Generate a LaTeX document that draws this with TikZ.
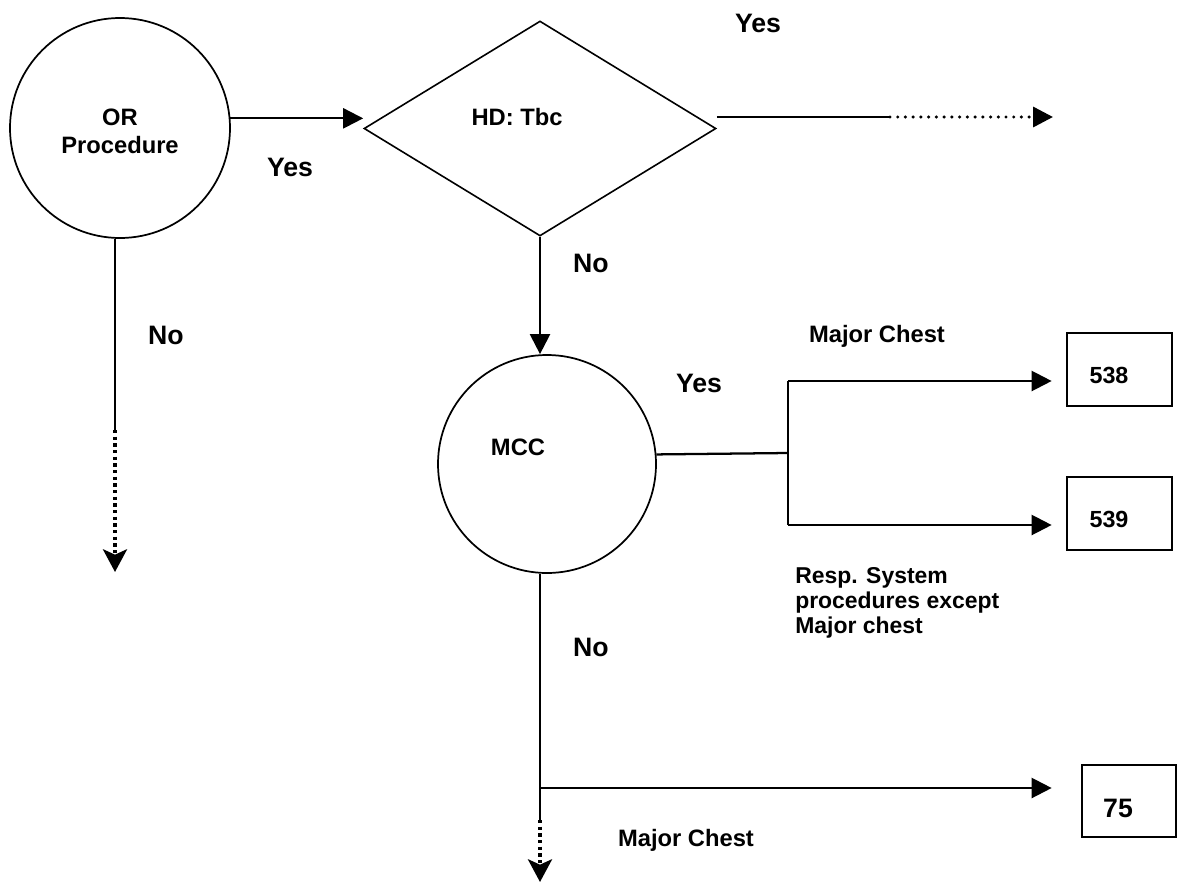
\documentclass[tikz,border=0pt]{standalone}
\usepackage{fontspec}
\setmainfont{Liberation Sans}
\usetikzlibrary{shapes.geometric,arrows.meta}
\begin{document}
\begin{tikzpicture}[x=0.75pt,y=-0.75pt,
  conn/.style={line width=1.7pt},
  arr/.style={conn,-{Triangle[length=15pt,width=15pt]}},
  dotarrH/.style={line width=2.6pt,line cap=round,dash pattern=on 0pt off 5.8pt,-{Triangle[length=15pt,width=15pt]}},
  dotarrV/.style={line width=2.8pt,dash pattern=on 2.6pt off 2.4pt,-{Stealth[length=17pt,width=18pt,inset=4pt]}},
  circ/.style={circle,draw,line width=1.3pt,inner sep=0pt},
  dia/.style={diamond,draw,line width=1.2pt,inner sep=0pt},
  box/.style={rectangle,draw,line width=2pt,inner sep=0pt},
  lab/.style={font=\bfseries\fontsize{20}{22}\selectfont,anchor=base,inner sep=0pt},
  txt/.style={font=\bfseries\fontsize{17.8}{21}\selectfont,anchor=base,inner sep=0pt},
  ortxt/.style={font=\bfseries\fontsize{17.8}{20}\selectfont,anchor=base,inner sep=0pt},
  numtxt/.style={font=\bfseries\fontsize{17.5}{20}\selectfont,anchor=base,inner sep=0pt},
  bignum/.style={font=\bfseries\fontsize{20}{22}\selectfont,anchor=base,inner sep=0pt},
  resp/.style={font=\bfseries\fontsize{17.2}{18.75}\selectfont,align=left,anchor=base west,inner sep=0pt},
]
\useasboundingbox (0,0) rectangle (1178,882);

% shapes
\node[circ,minimum size=165pt] (or) at (120,128) {};
\node[dia,minimum width=264pt,minimum height=161.25pt] (hd) at (540,128.5) {};
\node[circ,minimum size=163.5pt] (mcc) at (547,464) {};
\node[box,minimum width=78.75pt,minimum height=54.75pt] (b538) at (1119.5,369.5) {};
\node[box,minimum width=78.75pt,minimum height=54.75pt] (b539) at (1119.5,513.5) {};
\node[box,minimum width=70.5pt,minimum height=54pt] (b75) at (1129,801) {};

% texts in shapes
\node[ortxt] (tor) at (120,125) {OR};
\node[ortxt] (tproc) at (120,153) {Procedure};
\node[txt] (thd) at (517,125) {HD: Tbc};
\node[txt] (tmcc) at (518,455) {MCC};
\node[numtxt] (t538) at (1109,383) {538};
\node[numtxt] (t539) at (1109,527) {539};
\node[bignum] (t75) at (1118,817) {75};

% labels
\node[lab] (yes1) at (290,176) {Yes};
\node[lab] (yes2) at (758,32) {Yes};
\node[lab] (no1) at (166,344) {No};
\node[lab] (no2) at (591,272) {No};
\node[lab] (yes3) at (699,392) {Yes};
\node[lab] (no3) at (591,656) {No};
\node[txt] (mc1) at (877,342) {Major Chest};
\node[txt] (mc2) at (686,846) {Major Chest};
\node[resp] (rsp) at (795,633) {Resp. System\\procedures except\\Major chest};

% coordinates
\coordinate (hdm) at (890,117);
\coordinate (hdy) at (1053,117);
\coordinate (sp) at (788,453);
\coordinate (sa) at (788,381);
\coordinate (sb) at (788,525);
\coordinate (mj) at (540,788);
\coordinate (md) at (540,820);
\coordinate (me) at (540,882);
\coordinate (od) at (115,430);
\coordinate (oe) at (115,572);

% connectors
\draw[arr] (or.5.7) -- (or.5.7 -| hd.west);
\draw[conn] (hdm -| hd.east) -- (hdm);
\draw[dotarrH] (hdm) -- (hdy);
\draw[arr] (hd.south) -- (hd.south |- mcc.north);
\draw[conn] (mcc.5.8) -- (sp);
\draw[conn] (sa) -- (sb);
\draw[arr,shorten >=10.5pt] (sa) -- (sa -| b538.west);
\draw[arr,shorten >=10.5pt] (sb) -- (sb -| b539.west);
\draw[conn] (mcc.south -| mj) -- (md);
\draw[dotarrV] (md) -- (me);
\draw[arr,shorten >=21.75pt] (mj) -- (mj -| b75.west);
\draw[conn] (or.south -| od) -- (od);
\draw[dotarrV] (od) -- (oe);
\end{tikzpicture}
\end{document}
